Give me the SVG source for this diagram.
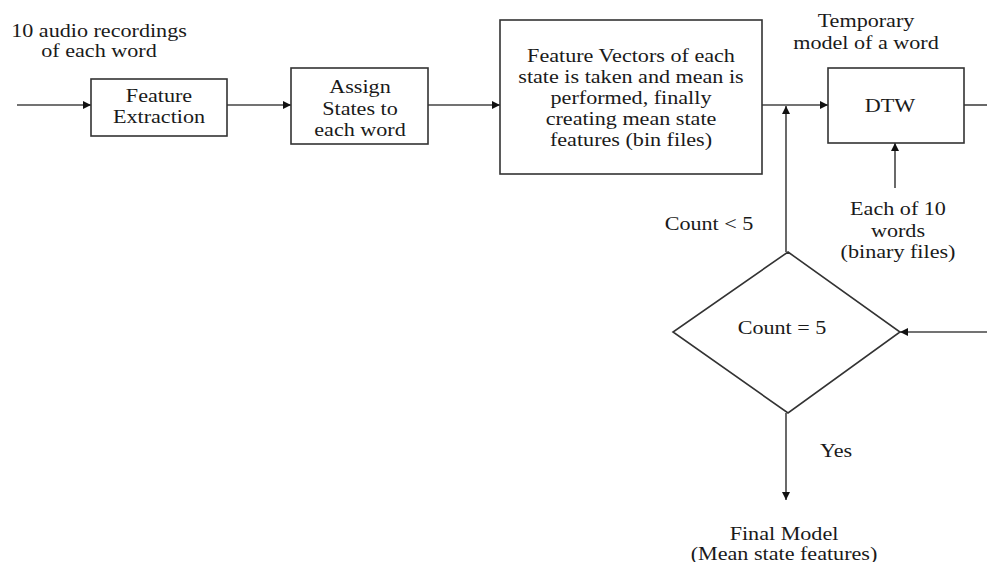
<svg xmlns="http://www.w3.org/2000/svg" width="987" height="562" viewBox="0 0 987 562">
<style>
.b{fill:#fff;stroke:#333;stroke-width:1.6}
.c{fill:none;stroke:#444;stroke-width:1.6}
text{font-family:"Liberation Serif","Times New Roman",serif;font-size:18px;fill:#1a1a1a;text-anchor:middle}
</style>
<defs>
<marker id="a" viewBox="0 0 10 10" refX="10" refY="5" markerWidth="10" markerHeight="8" markerUnits="userSpaceOnUse" orient="auto"><path d="M0,0L10,5L0,10z" fill="#111"/></marker>
</defs>
<g id="connectors">
<line class="c" x1="17" y1="105" x2="91" y2="105" marker-end="url(#a)"/>
<line class="c" x1="227" y1="105" x2="291" y2="105" marker-end="url(#a)"/>
<line class="c" x1="428" y1="105" x2="500" y2="105" marker-end="url(#a)"/>
<line class="c" x1="762" y1="105" x2="828" y2="105" marker-end="url(#a)"/>
<line class="c" x1="964" y1="105" x2="987" y2="105"/>
<line class="c" x1="786" y1="252" x2="786" y2="106" marker-end="url(#a)"/>
<line class="c" x1="895" y1="188" x2="895" y2="143" marker-end="url(#a)"/>
<line class="c" x1="987" y1="332" x2="900" y2="332" marker-end="url(#a)"/>
<line class="c" x1="786" y1="413" x2="786" y2="500" marker-end="url(#a)"/>
</g>
<g id="input-label" transform="matrix(1.23,0,0,1,99,0)"><text x="0" y="37">10 audio recordings</text><text x="0" y="57">of each word</text></g>
<g id="feature-extraction"><rect class="b" x="91" y="79" width="136" height="57"/><g transform="matrix(1.23,0,0,1,159,0)"><text x="0" y="102">Feature</text><text x="0" y="123">Extraction</text></g></g>
<g id="assign-states"><rect class="b" x="291" y="68" width="137" height="76"/><g transform="matrix(1.23,0,0,1,360,0)"><text x="0" y="93">Assign</text><text x="0" y="115">States to</text><text x="0" y="136">each word</text></g></g>
<g id="mean-features"><rect class="b" x="500" y="20" width="262" height="154"/><g transform="matrix(1.23,0,0,1,631,0)"><text x="0" y="62">Feature Vectors of each</text><text x="0" y="83">state is taken and mean is</text><text x="0" y="104">performed, finally</text><text x="0" y="125">creating mean state</text><text x="0" y="146">features (bin files)</text></g></g>
<g id="temp-label" transform="matrix(1.23,0,0,1,866,0)"><text x="0" y="27">Temporary</text><text x="0" y="49">model of a word</text></g>
<g id="dtw"><rect class="b" x="828" y="68" width="136" height="75"/><g transform="matrix(1.23,0,0,1,890,0)"><text x="0" y="112">DTW</text></g></g>
<g id="words-label" transform="matrix(1.23,0,0,1,898,0)"><text x="0" y="215">Each of 10</text><text x="0" y="237">words</text><text x="0" y="258">(binary files)</text></g>
<g id="count-less" transform="matrix(1.23,0,0,1,709,0)"><text x="0" y="230">Count &lt; 5</text></g>
<g id="decision"><polygon class="b" points="788,252 900,332 788,413 673,332"/><g transform="matrix(1.23,0,0,1,782,0)"><text x="0" y="334">Count = 5</text></g></g>
<g id="yes-label" transform="matrix(1.23,0,0,1,836,0)"><text x="0" y="457">Yes</text></g>
<g id="final-model" transform="matrix(1.23,0,0,1,784,0)"><text x="0" y="540">Final Model</text><text x="0" y="560">(Mean state features)</text></g>
</svg>
